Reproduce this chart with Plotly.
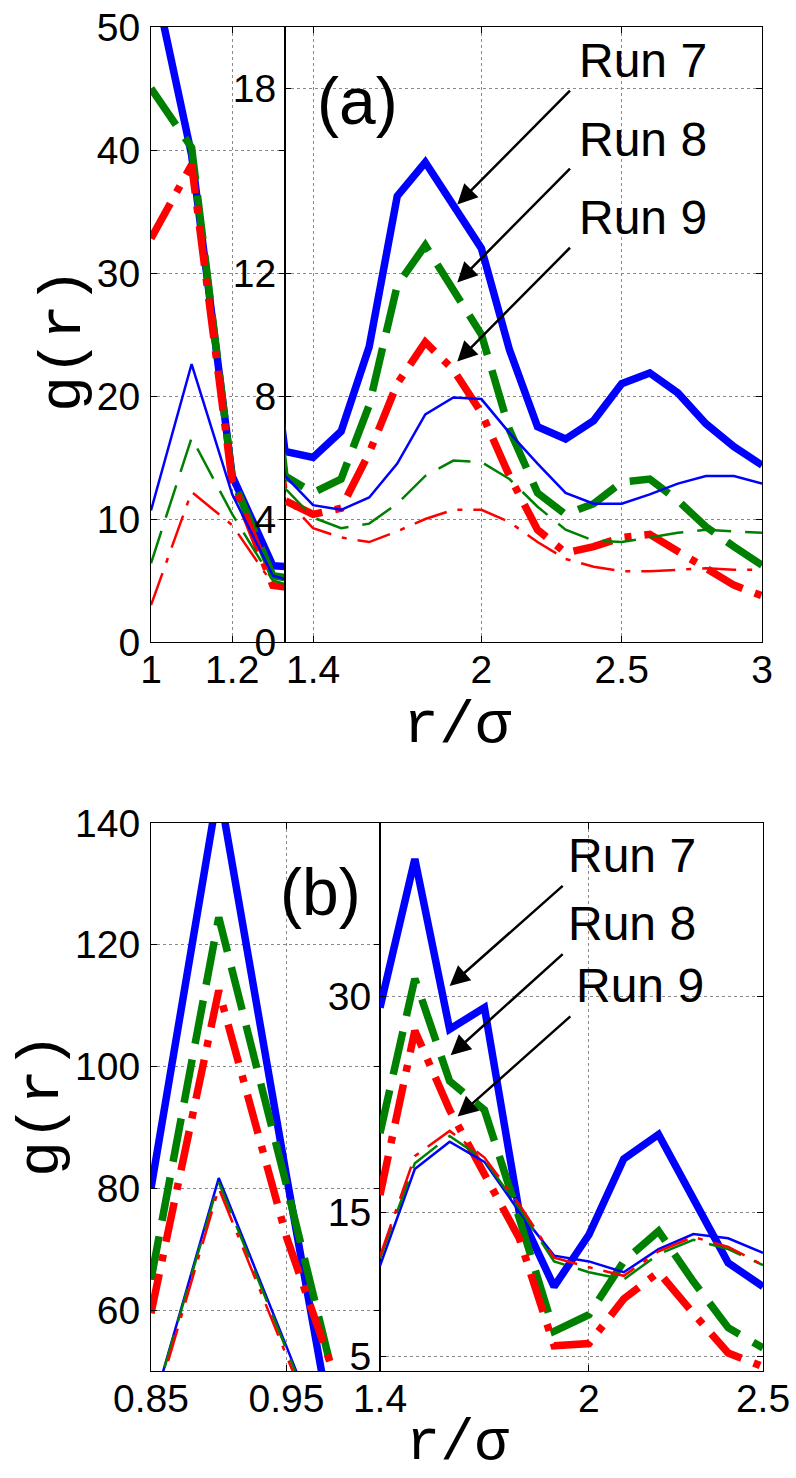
import plotly.graph_objects as go

W, H = 796, 1478

# ---------------- Panel (a) data (one r grid shared by both sub-axes) ----------------
r_a = [1.0, 1.1, 1.2, 1.3, 1.4, 1.5, 1.6, 1.7, 1.8, 1.9, 2.0,
       2.1, 2.2, 2.3, 2.4, 2.5, 2.6, 2.7, 2.8, 2.9, 3.0]
a_run7_thick = [55, 39.6, 13.5, 6.2, 6.0, 6.85, 9.6, 14.5, 15.6, 14.2, 12.8,
                9.5, 7.0, 6.6, 7.2, 8.4, 8.75, 8.1, 7.1, 6.35, 5.75]
a_run8_thick = [45, 40.2, 13.3, 5.4, 4.85, 5.3, 7.7, 11.6, 12.9, 11.5, 10.0,
                6.9, 4.85, 4.15, 4.5, 5.2, 5.3, 4.6, 3.75, 3.1, 2.5]
a_run9_thick = [32.8, 38.8, 13.0, 4.6, 4.15, 4.35, 6.15, 8.4, 9.75, 8.85, 7.45,
                5.4, 3.65, 2.9, 3.1, 3.4, 3.5, 2.95, 2.35, 1.85, 1.5]
a_run7_thin = [10.7, 22.6, 12.0, 5.4, 4.45, 4.3, 4.7, 5.8, 7.4, 7.95, 7.9,
               6.8, 5.8, 4.85, 4.5, 4.5, 4.8, 5.15, 5.4, 5.4, 5.15]
a_run8_thin = [6.4, 16.6, 10.4, 5.0, 4.05, 3.7, 3.85, 4.5, 5.4, 5.9, 5.85,
               5.3, 4.4, 3.65, 3.3, 3.25, 3.4, 3.55, 3.65, 3.6, 3.55]
a_run9_thin = [3.0, 12.2, 9.5, 4.7, 3.7, 3.4, 3.25, 3.6, 4.0, 4.3, 4.3,
               3.9, 3.25, 2.7, 2.45, 2.3, 2.3, 2.35, 2.4, 2.35, 2.35]

# ---------------- Panel (b) data ----------------
r_b_left = [0.85, 0.9, 0.95, 1.0]
b_left_run7_thick = [80, 146, 82, 20]
b_left_run8_thick = [65, 124.5, 80.5, 35]
b_left_run9_thick = [59.5, 112.5, 72, 40]
b_left_run7_thin = [43, 81.7, 54, 26]
b_left_run8_thin = [43, 81, 53.5, 26]
b_left_run9_thin = [42, 80, 52.5, 25]

r_b_right = [1.4, 1.5, 1.6, 1.7, 1.8, 1.9, 2.0, 2.1, 2.2, 2.3, 2.4, 2.5]
b_right_run7_thick = [29.2, 39.5, 27.7, 29.2, 15.0, 9.85, 13.45, 18.7, 20.4, 15.9, 11.5, 9.85]
b_right_run8_thick = [20.5, 31.2, 24.1, 22.1, 14.6, 6.75, 7.9, 11.6, 13.7, 10.2, 7.0, 5.6]
b_right_run9_thick = [16.2, 27.6, 22.1, 17.7, 13.2, 5.75, 5.9, 9.0, 10.85, 8.0, 5.25, 4.3]
b_right_run7_thin = [11.3, 18.0, 19.9, 18.5, 15.05, 12.0, 11.6, 10.85, 12.45, 13.5, 13.2, 12.2]
b_right_run8_thin = [11.8, 18.4, 20.3, 18.65, 15.3, 11.6, 10.85, 10.35, 12.1, 13.1, 12.45, 11.35]
b_right_run9_thin = [11.95, 18.9, 20.65, 18.8, 15.55, 11.85, 11.2, 10.6, 12.3, 13.3, 12.6, 11.35]

# tick values / labels
a_left_xticks = [1, 1.2]
a_left_xtext = ["1", "1.2"]
a_left_yticks = [0, 10, 20, 30, 40, 50]
a_right_xticks = [1.4, 2, 2.5, 3]
a_right_xtext = ["1.4", "2", "2.5", "3"]
a_right_yticks = [0, 4, 8, 12, 18]
b_left_xticks = [0.85, 0.95]
b_left_xtext = ["0.85", "0.95"]
b_left_yticks = [60, 80, 100, 120, 140]
b_right_xticks = [1.4, 2, 2.5]
b_right_xtext = ["1.4", "2", "2.5"]
b_right_yticks = [5, 15, 30]

run_labels = ["Run 7", "Run 8", "Run 9"]

# ---------------- styles ----------------
BLUE, GREEN, RED = "#0000FF", "#008000", "#FF0000"
THICK, THIN = 7.5, 2.5
styles = {
    "r7_thick": dict(color=BLUE, width=THICK, dash="solid"),
    "r8_thick": dict(color=GREEN, width=THICK, dash="44px,16px"),
    "r9_thick": dict(color=RED, width=THICK, dash="40px,13px,7px,13px"),
    "r7_thin": dict(color=BLUE, width=THIN, dash="solid"),
    "r8_thin": dict(color=GREEN, width=THIN, dash="34px,14px"),
    "r9_thin": dict(color=RED, width=THIN, dash="34px,11px,5px,11px"),
}

fig = go.Figure()

def add(x, y, key, xa, ya):
    fig.add_trace(go.Scatter(x=x, y=y, mode="lines", line=styles[key],
                             xaxis=xa, yaxis=ya, showlegend=False,
                             hoverinfo="skip"))

a_series = [("r7_thick", a_run7_thick), ("r8_thick", a_run8_thick), ("r9_thick", a_run9_thick),
            ("r7_thin", a_run7_thin), ("r8_thin", a_run8_thin), ("r9_thin", a_run9_thin)]
for key, vals in a_series:
    add(r_a, vals, key, "x", "y")
    add(r_a, vals, key, "x2", "y2")

bl_series = [("r7_thick", b_left_run7_thick), ("r8_thick", b_left_run8_thick), ("r9_thick", b_left_run9_thick),
             ("r7_thin", b_left_run7_thin), ("r8_thin", b_left_run8_thin), ("r9_thin", b_left_run9_thin)]
for key, vals in bl_series:
    add(r_b_left, vals, key, "x3", "y3")

br_series = [("r7_thick", b_right_run7_thick), ("r8_thick", b_right_run8_thick), ("r9_thick", b_right_run9_thick),
             ("r7_thin", b_right_run7_thin), ("r8_thin", b_right_run8_thin), ("r9_thin", b_right_run9_thin)]
for key, vals in br_series:
    add(r_b_right, vals, key, "x4", "y4")

# ---------------- axes ----------------
TICKFONT = dict(family="Liberation Sans, Arial, sans-serif", size=39, color="black")
common = dict(showline=True, linecolor="black", linewidth=1, mirror="ticks",
              ticks="inside", ticklen=6, tickcolor="black", tickwidth=1,
              showgrid=True, gridcolor="#8a8a8a", griddash="dot", gridwidth=1,
              zeroline=False, tickfont=TICKFONT, fixedrange=True, automargin=False)

def px2x(p):
    return p / W

def py2y(p):
    return 1 - p / H

a_top, a_bot = py2y(27), py2y(642)
b_top, b_bot = py2y(823), py2y(1371)
xa_l0, xa_mid, xa_r = px2x(151), px2x(285), px2x(762)
xb_l0, xb_mid, xb_r = px2x(151), px2x(380), px2x(763)
XSTAND, YSTAND = -7, 2

fig.update_layout(
    template="none",
    xaxis=dict(domain=[xa_l0, xa_mid], range=[1, 1.33], tickvals=a_left_xticks,
               ticktext=a_left_xtext, anchor="y", ticklabelstandoff=XSTAND, **common),
    yaxis=dict(domain=[a_bot, a_top], range=[0, 50], tickvals=a_left_yticks,
               anchor="x", ticklabelstandoff=YSTAND, **common),
    xaxis2=dict(domain=[xa_mid, xa_r], range=[1.3, 3], tickvals=a_right_xticks,
                ticktext=a_right_xtext, anchor="y2", ticklabelstandoff=XSTAND, **common),
    yaxis2=dict(domain=[a_bot, a_top], range=[0, 20], tickvals=a_right_yticks,
                anchor="x2", ticklabelstandoff=0, **common),
    xaxis3=dict(domain=[xb_l0, xb_mid], range=[0.85, 1.019], tickvals=b_left_xticks,
                ticktext=b_left_xtext, anchor="y3", ticklabelstandoff=XSTAND, **common),
    yaxis3=dict(domain=[b_bot, b_top], range=[50, 140], tickvals=b_left_yticks,
                anchor="x3", ticklabelstandoff=YSTAND, **common),
    xaxis4=dict(domain=[xb_mid, xb_r], range=[1.4, 2.5], tickvals=b_right_xticks,
                ticktext=b_right_xtext, anchor="y4", ticklabelstandoff=XSTAND, **common),
    yaxis4=dict(domain=[b_bot, b_top], range=[4, 42], tickvals=b_right_yticks,
                anchor="x4", ticklabelstandoff=0, **common),
)

# ---------------- annotations ----------------
ann = []
LABFONT = dict(family="Liberation Sans, Arial, sans-serif", size=48, color="black")
MONO = dict(family="Liberation Mono, Courier New, monospace", size=60, color="black")
MONO_B = dict(family="Liberation Mono, Courier New, monospace", size=57, color="black")
PANEL = dict(family="Liberation Sans, Arial, sans-serif", size=66, color="black")

# Run labels + arrows  (text x, text y, tail x, tail y, tip x, tip y)
a_arrows = [(2.339, 18.9, 2.321, 17.98, 1.914, 14.23),
            (2.339, 16.35, 2.321, 15.44, 1.914, 11.69),
            (2.339, 13.8, 2.321, 12.87, 1.914, 9.12)]
b_arrows = [(1.934, 39.75, 1.929, 37.73, 1.600, 30.7),
            (1.934, 35.0, 1.929, 33.0, 1.603, 25.9),
            (1.957, 30.7, 1.951, 28.68, 1.623, 21.64)]
for (xr, yr, arrows) in [("x2", "y2", a_arrows), ("x4", "y4", b_arrows)]:
    for lab, (tx, ty, ax, ay, hx, hy) in zip(run_labels, arrows):
        ann.append(dict(x=tx, y=ty, xref=xr, yref=yr, text=lab, showarrow=False,
                        xanchor="left", yanchor="middle", font=LABFONT))
        ann.append(dict(x=hx, y=hy, xref=xr, yref=yr, ax=ax, ay=ay, axref=xr, ayref=yr,
                        text="", showarrow=True, arrowhead=2, arrowsize=1.6,
                        arrowwidth=2.5, arrowcolor="black"))

# panel tags
ann.append(dict(x=px2x(315), y=py2y(101), xref="paper", yref="paper", text="(a)",
                showarrow=False, xanchor="left", yanchor="middle", font=PANEL))
ann.append(dict(x=px2x(278), y=py2y(892), xref="paper", yref="paper", text="(b)",
                showarrow=False, xanchor="left", yanchor="middle", font=PANEL))

# axis titles
ann.append(dict(x=px2x(64), y=py2y(340), xref="paper", yref="paper", text="g(r)",
                textangle=-90, showarrow=False, xanchor="center", yanchor="middle", font=MONO))
ann.append(dict(x=px2x(42), y=py2y(1105), xref="paper", yref="paper", text="g(r)",
                textangle=-90, showarrow=False, xanchor="center", yanchor="middle", font=MONO))
ann.append(dict(x=px2x(457), y=py2y(726), xref="paper", yref="paper", text="r/σ",
                showarrow=False, xanchor="center", yanchor="middle", font=MONO))
ann.append(dict(x=px2x(457), y=0.0, xref="paper", yref="paper", text="r/σ",
                showarrow=False, xanchor="center", yanchor="bottom", font=MONO_B))

fig.update_layout(
    width=W, height=H, margin=dict(l=0, r=0, t=0, b=0),
    paper_bgcolor="white", plot_bgcolor="white",
    annotations=ann, showlegend=False,
)

fig.write_html("out.html", config={"displayModeBar": False})
